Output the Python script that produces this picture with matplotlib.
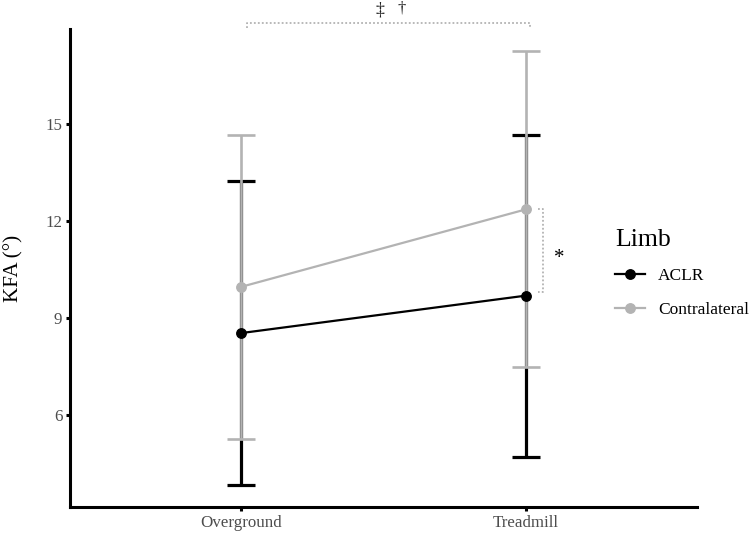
import matplotlib
matplotlib.use("Agg")
import matplotlib.pyplot as plt
import numpy as np

plt.rcParams['font.family'] = ['Liberation Serif', 'DejaVu Serif']

conditions = ["Overground", "Treadmill"]
limbs = ["ACLR", "Contralateral"]
means = {"ACLR": [8.54, 9.70], "Contralateral": [9.97, 12.37]}
lower = {"ACLR": [3.83, 4.72], "Contralateral": [5.26, 7.49]}
upper = {"ACLR": [13.26, 14.66], "Contralateral": [14.66, 17.27]}
colors = {"ACLR": "#000000", "Contralateral": "#B3B3B3"}
eb_lw = {"ACLR": 2.3, "Contralateral": 1.9}
yticks = [6, 9, 12, 15]

fig = plt.figure(figsize=(7.5, 5.35), dpi=100)
ax = fig.add_axes([70/750, 1-507/535, (697-70)/750, (507-29.3)/535])

x = np.arange(len(conditions))
# error bars first
for limb in limbs:
    m = np.array(means[limb]); lo = np.array(lower[limb]); hi = np.array(upper[limb])
    ax.errorbar(x, m, yerr=[m - lo, hi - m], fmt='none', ecolor=colors[limb],
                elinewidth=eb_lw[limb], capsize=10, capthick=eb_lw[limb], zorder=2)
handles = []
for limb in limbs:
    h, = ax.plot(x, means[limb], color=colors[limb], lw=1.6, marker='o', ms=6.8,
                 label=limb, zorder=3)
    handles.append(h)

ax.set_xlim(-0.6, 1.6)
ymin = min(min(v) for v in lower.values()); ymax = max(max(v) for v in upper.values())
pad = 0.05 * (ymax - ymin)
ax.set_ylim(ymin - pad, ymax + pad)
ax.set_xticks(x)
ax.set_xticklabels(conditions)
ax.set_yticks(yticks)
for s in ['top', 'right']:
    ax.spines[s].set_visible(False)
for s in ['left', 'bottom']:
    ax.spines[s].set_linewidth(2.2)
    ax.spines[s].set_color('black')
ax.tick_params(axis='both', length=3, width=2.2, color='black', labelcolor='#4D4D4D',
               labelsize=12.2, pad=2.5)
ax.set_ylabel("KFA (°)", fontsize=15.2, color='black', labelpad=16)

# significance bracket across conditions
grey = '#B3B3B3'
yb = 18.15; yb2 = 17.97
ax.plot([0.02, 0.02, 1.015, 1.015], [yb2, yb, yb, yb2], ls=(0, (1, 1.2)), color=grey,
        lw=1.3, clip_on=False)
ax.text(0.489, 18.54, "‡", ha='center', va='center', fontsize=13, color='#222222')
ax.text(0.562, 18.58, "†", ha='center', va='center', fontsize=12, color='#222222')

# significance bracket between limbs at Treadmill
xr = 1.061; xs = 1.041
ax.plot([xs, xr, xr, xs], [means["Contralateral"][1], means["Contralateral"][1],
                           9.82, 9.82], ls=(0, (1, 1.2)), color=grey, lw=1.3,
        clip_on=False)
ax.text(1.115, 10.85, "*", ha='center', va='center', fontsize=15, color='black')

leg = ax.legend(handles=handles, labels=limbs, title="Limb", loc='upper left',
                bbox_to_anchor=(615/750, 1-229/535), bbox_transform=fig.transFigure,
                frameon=False, fontsize=12.5, title_fontsize=18.5, handlelength=1.72,
                handletextpad=0.75, labelspacing=1.02, alignment='left',
                borderaxespad=0, borderpad=0)
leg._legend_box.sep = 12

fig.savefig("out.png", dpi=100)
